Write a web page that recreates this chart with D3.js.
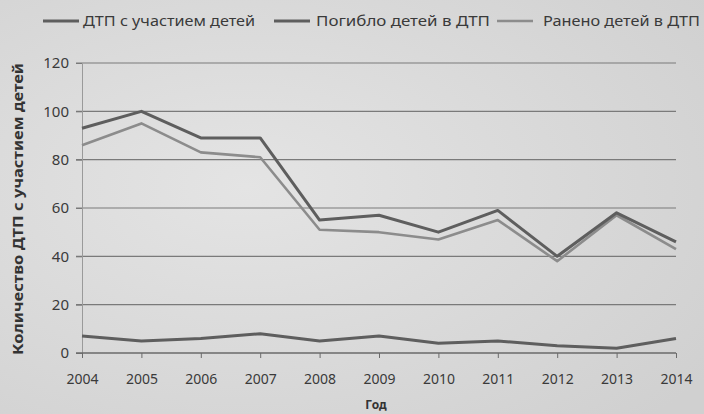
<!DOCTYPE html>
<html><head><meta charset="utf-8">
<script src="https://cdn.jsdelivr.net/npm/d3@7"></script>
<style>
html,body{margin:0;padding:0;background:#dcdcdc;}
svg{display:block;font-family:"Noto Sans",sans-serif;}
</style></head>
<body><svg id="c" width="704" height="414"></svg>
<script>
const years = [2004,2005,2006,2007,2008,2009,2010,2011,2012,2013,2014];
const accidents = [93,100,89,89,55,57,50,59,40,58,46];
const killed = [7,5,6,8,5,7,4,5,3,2,6];
const injured = [86,95,83,81,51,50,47,55,38,57,43];
const seriesNames = ["ДТП с участием детей","Погибло детей в ДТП","Ранено детей в ДТП"];
const yTicks = [0,20,40,60,80,100,120];

const svg = d3.select("#c");
const defs = svg.append("defs");
const grad = defs.append("radialGradient").attr("id","bg").attr("cx","0.35").attr("cy","0.45").attr("r","0.8");
grad.append("stop").attr("offset","0").attr("stop-color","#e4e4e4");
grad.append("stop").attr("offset","1").attr("stop-color","#d0d0d0");
svg.append("rect").attr("width",704).attr("height",414).attr("fill","url(#bg)");

const x = d3.scalePoint().domain(years).range([82,676]);
const y = d3.scaleLinear().domain([0,120]).range([353,63]);

// grid
svg.append("g").selectAll("line").data(yTicks.filter(d=>d>0)).join("line")
  .attr("x1",76).attr("x2",676).attr("y1",d=>y(d)).attr("y2",d=>y(d))
  .attr("stroke","#7a7a7a").attr("stroke-width",1.2);

// y axis
const ya = svg.append("g").attr("transform","translate(82,0)")
  .call(d3.axisLeft(y).tickValues(yTicks).tickSize(6).tickPadding(7));
ya.select(".domain").attr("stroke","#9a9a9a").attr("stroke-width",1);
ya.selectAll(".tick line").attr("stroke","#7a7a7a");
ya.selectAll("text").attr("font-size",15).attr("fill","#3a3a3a").attr("font-family","Noto Sans");

// x axis
const xa = svg.append("g").attr("transform","translate(0,353)")
  .call(d3.axisBottom(x).tickSize(5).tickPadding(16).tickSizeOuter(0));
xa.select(".domain").attr("stroke","#6a6a6a").attr("stroke-width",1.5).attr("d","M76,0H676");
xa.selectAll(".tick line").attr("stroke","#6a6a6a");
xa.selectAll("text").attr("font-size",14).attr("fill","#3a3a3a").attr("font-family","Noto Sans");

const line = d3.line().x((d,i)=>x(years[i])).y(d=>y(d));
const styles = [
  {data:accidents,color:"#5e5e5e",w:3},
  {data:killed,color:"#5e5e5e",w:3},
  {data:injured,color:"#8c8c8c",w:2.6}
];
[styles[2],styles[0],styles[1]].forEach(s=>{
  svg.append("path").datum(s.data).attr("d",line).attr("fill","none")
    .attr("stroke",s.color).attr("stroke-width",s.w).attr("stroke-linejoin","round");
});

// legend
const leg = [{x:43,tx:83,tw:172},{x:274,tx:316,tw:174},{x:497,tx:543,tw:157}];
leg.forEach((l,i)=>{
  svg.append("line").attr("x1",l.x).attr("x2",l.x+36).attr("y1",21).attr("y2",21)
    .attr("stroke",styles[i].color).attr("stroke-width",styles[i].w);
  svg.append("text").attr("x",l.tx).attr("y",26).attr("font-size",14).attr("fill","#3a3a3a")
    .attr("textLength",l.tw).attr("lengthAdjust","spacingAndGlyphs").text(seriesNames[i]);
});

// axis titles
svg.append("text").attr("transform","translate(23,209) rotate(-90)").attr("text-anchor","middle")
  .attr("font-size",14.5).attr("font-weight","bold").attr("fill","#333")
  .attr("textLength",292).attr("lengthAdjust","spacingAndGlyphs")
  .text("Количество ДТП с участием детей");
svg.append("text").attr("x",376).attr("y",409).attr("text-anchor","middle")
  .attr("font-size",12).attr("font-weight","bold").attr("fill","#333").text("Год");
</script></body></html>
